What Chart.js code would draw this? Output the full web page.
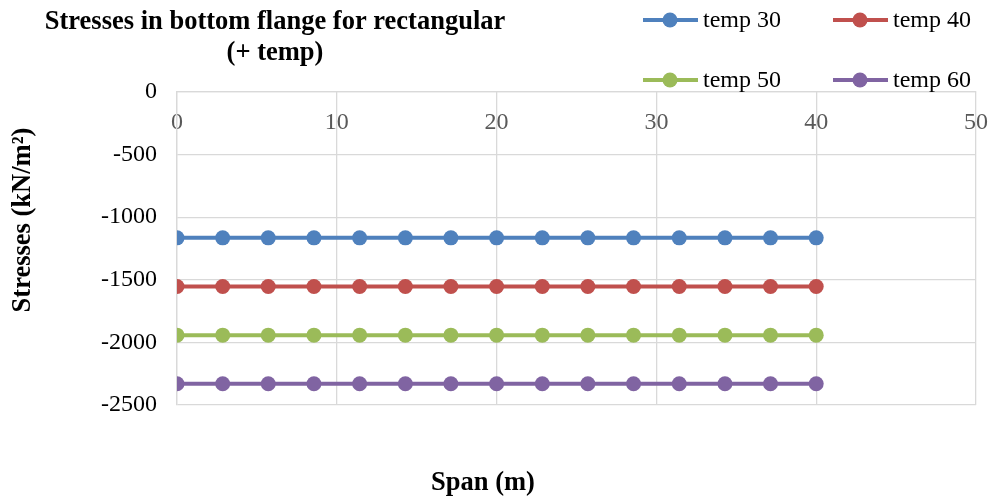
<!DOCTYPE html>
<html>
<head>
<meta charset="utf-8">
<script src="https://cdn.jsdelivr.net/npm/chart.js@4/dist/chart.umd.min.js"></script>
<style>
  html, body { margin: 0; padding: 0; background: #fff; }
</style>
</head>
<body>
<canvas id="chart" width="992" height="499"></canvas>
<script>
const SPAN = [0, 2.86, 5.71, 8.57, 11.43, 14.29, 17.14, 20, 22.86, 25.71, 28.57, 31.43, 34.29, 37.14, 40];
const TEMP_30 = [-1165, -1165, -1165, -1165, -1165, -1165, -1165, -1165, -1165, -1165, -1165, -1165, -1165, -1165, -1165];
const TEMP_40 = [-1553, -1553, -1553, -1553, -1553, -1553, -1553, -1553, -1553, -1553, -1553, -1553, -1553, -1553, -1553];
const TEMP_50 = [-1942, -1942, -1942, -1942, -1942, -1942, -1942, -1942, -1942, -1942, -1942, -1942, -1942, -1942, -1942];
const TEMP_60 = [-2330, -2330, -2330, -2330, -2330, -2330, -2330, -2330, -2330, -2330, -2330, -2330, -2330, -2330, -2330];
const SERIES_NAMES = ['temp 30', 'temp 40', 'temp 50', 'temp 60'];

const TITLE = ['Stresses in bottom flange for rectangular', '(+ temp)'];
const X_TITLE = 'Span (m)';
const Y_TITLE = 'Stresses (kN/m\u00B2)';

const COLORS = ['#4F81BD', '#C0504D', '#9BBB59', '#8064A2'];
const GRID = '#D9D9D9';
const SERIF = '"Liberation Serif", "Times New Roman", serif';

function series(name, values, color) {
  return {
    label: name,
    data: values.map((v, i) => ({ x: SPAN[i], y: v })),
    borderColor: color,
    backgroundColor: color,
    borderWidth: 4,
    pointRadius: 7.5,
    pointBorderWidth: 0,
    pointHoverRadius: 7.5,
    tension: 0,
    fill: false,
  };
}

// titles and legend are placed by hand, like the excel layout
const annotate = {
  id: 'annotate',
  afterDraw(chart) {
    const ctx = chart.ctx;
    ctx.save();
    ctx.fillStyle = '#000';
    ctx.textAlign = 'center';
    ctx.textBaseline = 'middle';
    ctx.font = 'bold 26.5px ' + SERIF;
    TITLE.forEach((line, i) => ctx.fillText(line, 275, 22 + i * 31));
    ctx.fillText(X_TITLE, 483, 483);
    ctx.save();
    ctx.translate(23, 220);
    ctx.rotate(-Math.PI / 2);
    ctx.fillText(Y_TITLE, 0, 0);
    ctx.restore();

    ctx.font = '24px ' + SERIF;
    ctx.textAlign = 'left';
    chart.data.datasets.forEach((ds, i) => {
      const x0 = i % 2 === 0 ? 643 : 833;
      const y = i < 2 ? 20 : 80;
      ctx.strokeStyle = ds.borderColor;
      ctx.lineWidth = 4;
      ctx.beginPath();
      ctx.moveTo(x0, y);
      ctx.lineTo(x0 + 55, y);
      ctx.stroke();
      ctx.fillStyle = ds.backgroundColor;
      ctx.beginPath();
      ctx.arc(x0 + 27, y, 7.5, 0, Math.PI * 2);
      ctx.fill();
      ctx.fillStyle = '#000';
      ctx.fillText(ds.label, x0 + 60, y + 1);
    });
    ctx.restore();
  }
};

const chartConfig = {
  type: 'line',
  data: {
    datasets: [
      series(SERIES_NAMES[0], TEMP_30, COLORS[0]),
      series(SERIES_NAMES[1], TEMP_40, COLORS[1]),
      series(SERIES_NAMES[2], TEMP_50, COLORS[2]),
      series(SERIES_NAMES[3], TEMP_60, COLORS[3]),
    ],
  },
  options: {
    responsive: false,
    animation: false,
    devicePixelRatio: 1,
    layout: {
      padding: { left: 0, top: 92, right: 16, bottom: 94 },
    },
    scales: {
      x: {
        type: 'linear',
        position: { y: 0 },
        min: 0,
        max: 50,
        ticks: {
          stepSize: 10,
          padding: 16,
          color: '#595959',
          font: { family: SERIF, size: 24 },
          maxRotation: 0,
        },
        grid: { color: GRID, lineWidth: 1.3, drawTicks: false },
        border: { color: GRID, width: 1.3 },
        afterFit(scale) {
          scale.paddingLeft = 0;
          scale.paddingRight = 0;
        },
      },
      y: {
        position: 'left',
        min: -2500,
        max: 0,
        ticks: {
          stepSize: 500,
          padding: 20,
          color: '#000',
          font: { family: SERIF, size: 24 },
          callback: v => String(v),
        },
        grid: { color: GRID, lineWidth: 1.3, drawTicks: false },
        border: { color: GRID, width: 1.3 },
        afterFit(scale) { scale.width = 177; },
      },
    },
    plugins: {
      legend: { display: false },
      title: { display: false },
      tooltip: { enabled: false },
    },
  },
  plugins: [annotate],
};

new Chart(document.getElementById('chart'), chartConfig);
</script>
</body>
</html>
